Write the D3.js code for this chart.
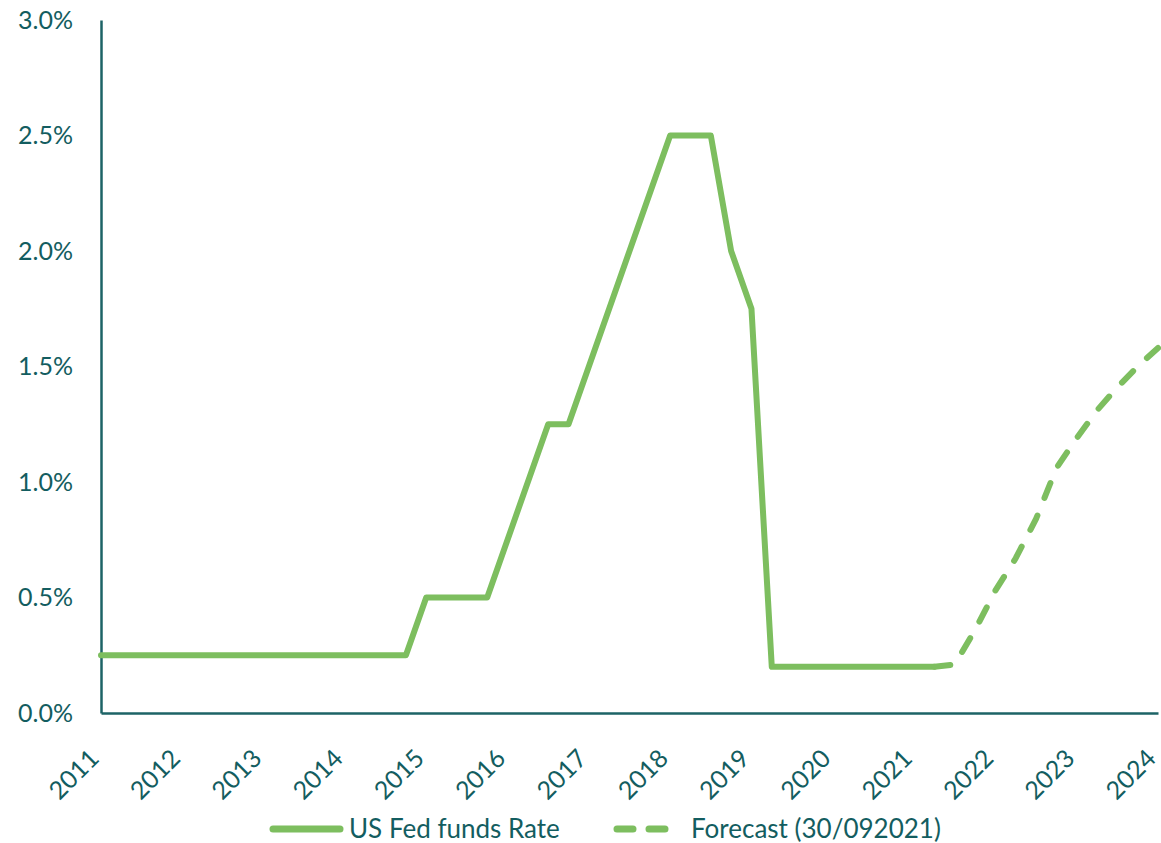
<!DOCTYPE html>
<html>
<head>
<meta charset="utf-8">
<script src="https://cdn.jsdelivr.net/npm/d3@7"></script>
<style>
  html, body { margin: 0; padding: 0; background: #fff; }
  svg { display: block; }
  text { font-family: Lato, "Open Sans", sans-serif; fill: #135d60; }
</style>
</head>
<body>
<svg id="chart" width="1161" height="843"></svg>
<script>
// Year tick labels along the x axis
const years = [2011, 2012, 2013, 2014, 2015, 2016, 2017, 2018, 2019, 2020, 2021, 2022, 2023, 2024];
// Percent tick values on the y axis
const yTicks = [0, 0.5, 1.0, 1.5, 2.0, 2.5, 3.0];

// Fed funds rate history (fractional year, % rate) at its turning points
const rateDates = [2011.0, 2014.75, 2015.0, 2015.75, 2016.5, 2016.75, 2018.0, 2018.5, 2018.75, 2019.0, 2019.25, 2021.25];
const rateValues = [0.25, 0.25, 0.5, 0.5, 1.25, 1.25, 2.5, 2.5, 2.0, 1.75, 0.2, 0.2];

// Forecast path (quarterly), as of 30/09/2021
const forecastDates = [2021.25, 2021.5, 2021.75, 2022.0, 2022.25, 2022.5, 2022.75, 2023.0, 2023.25, 2023.5, 2023.75, 2024.0];
const forecastValues = [0.2, 0.21, 0.36, 0.53, 0.67, 0.84, 1.06, 1.19, 1.31, 1.41, 1.50, 1.58];

const seriesNames = ["US Fed funds Rate", "Forecast (30/092021)"];

const green = "#7dbe5f";
const axisColor = "#1d6366";
const textColor = "#135d60";

const svg = d3.select("#chart");
const plotLeft = 101, plotRight = 1158, plotTop = 20, plotBottom = 713;

const x = d3.scaleLinear().domain([2011, 2024]).range([plotLeft, plotRight]);
const y = d3.scaleLinear().domain([0, 3]).range([plotBottom, plotTop]);

// Y axis: labels only, plus the vertical axis line
const yAxis = d3.axisLeft(y).tickValues(yTicks).tickSize(0).tickPadding(28)
  .tickFormat(d => d3.format(".1f")(d) + "%");
const gy = svg.append("g").attr("transform", `translate(${plotLeft},0)`).call(yAxis);
gy.select(".domain").attr("stroke", axisColor).attr("stroke-width", 2.5);
gy.selectAll("text").attr("font-size", 25).attr("font-family", "Lato, sans-serif").attr("fill", textColor);

// X axis: rotated year labels, horizontal axis line
const xAxis = d3.axisBottom(x).tickValues(years).tickSize(0).tickFormat(d3.format("d"));
const gx = svg.append("g").attr("transform", `translate(0,${plotBottom})`).call(xAxis);
gx.select(".domain").attr("stroke", axisColor).attr("stroke-width", 2.5);
gx.selectAll("text")
  .attr("font-size", 25).attr("font-family", "Lato, sans-serif").attr("fill", textColor)
  .attr("text-anchor", "end")
  .attr("dy", null)
  .attr("transform", "translate(-8,40) rotate(-45)")
  .attr("y", 0).attr("x", 0)
  .attr("dominant-baseline", "central");

const line = d3.line().x(d => x(d[0])).y(d => y(d[1]));

// Historical rate (solid)
svg.append("path")
  .datum(d3.zip(rateDates, rateValues))
  .attr("d", line)
  .attr("fill", "none")
  .attr("stroke", green)
  .attr("stroke-width", 6)
  .attr("stroke-linejoin", "round")
  .attr("stroke-linecap", "round");

// Forecast (dashed)
svg.append("path")
  .datum(d3.zip(forecastDates, forecastValues))
  .attr("d", line)
  .attr("fill", "none")
  .attr("stroke", green)
  .attr("stroke-width", 6)
  .attr("stroke-dasharray", "16,19")
  .attr("stroke-linejoin", "round")
  .attr("stroke-linecap", "round");

// Legend
const legendY = 829;
const legend = svg.append("g");
legend.append("line")
  .attr("x1", 273).attr("x2", 340).attr("y1", legendY).attr("y2", legendY)
  .attr("stroke", green).attr("stroke-width", 7).attr("stroke-linecap", "round");
legend.append("text")
  .attr("x", 349).attr("y", legendY).attr("dy", "0.36em")
  .attr("font-size", 26).text(seriesNames[0]);
legend.append("line")
  .attr("x1", 617).attr("x2", 675).attr("y1", legendY).attr("y2", legendY)
  .attr("stroke", green).attr("stroke-width", 7).attr("stroke-linecap", "round")
  .attr("stroke-dasharray", "16,16");
legend.append("text")
  .attr("x", 691).attr("y", legendY).attr("dy", "0.36em")
  .attr("font-size", 26).text(seriesNames[1]);
</script>
</body>
</html>
